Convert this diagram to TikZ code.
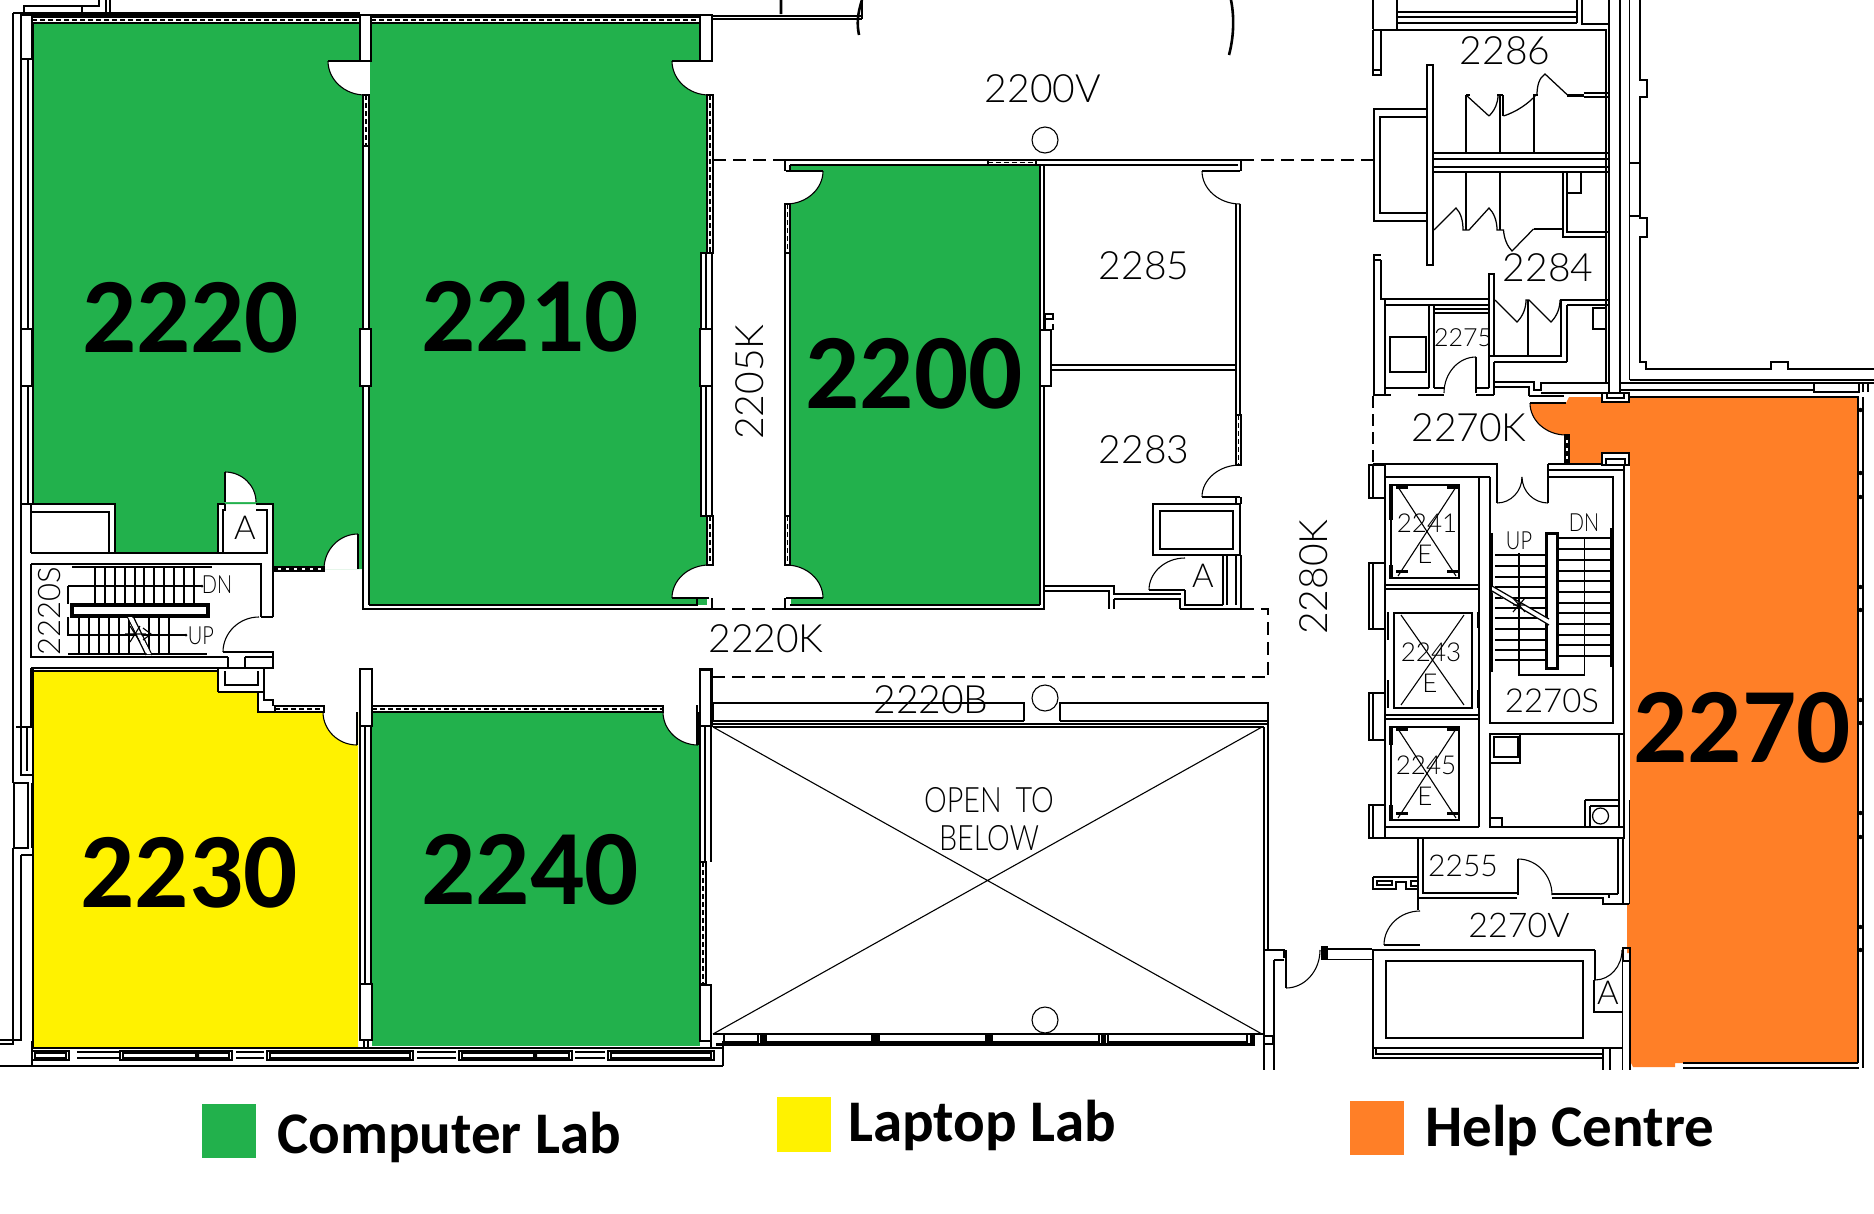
\documentclass[tikz,border=0pt]{standalone}
\usepackage{fontspec}
\setmainfont{Carlito}
\newfontfamily\cad{Lato Light}
\newfontfamily\boldlab{Carlito}[BoldFont=Carlito Bold]
\definecolor{rgreen}{RGB}{34,177,76}
\definecolor{ryellow}{RGB}{255,242,0}
\definecolor{rorange}{RGB}{255,127,39}
\tikzset{
 w/.style={line width=1.25pt,draw=black},
 tn/.style={line width=1.1pt,draw=black},
 tk/.style={line width=2.6pt,draw=black},
 col/.style={line width=1.1pt,draw=black,fill=white},
 lab/.style={font=\cad\fontsize{#1}{#1}\selectfont,inner sep=0pt,text=black},
 lab/.default=39,
 big/.style={font=\boldlab\bfseries\fontsize{107}{107}\selectfont,inner sep=0pt,text=black},
 leg/.style={font=\boldlab\bfseries\fontsize{59}{59}\selectfont,inner sep=0pt,text=black,anchor=base west},
 dsh/.style={line width=1.4pt,draw=black,dash pattern=on 13pt off 7pt},
}
% door: hinge x,y; leaf vector; opening vector
\newcommand{\doorw}[6]{%
 \fill[white] (#1,#2) -- (#1+#3,#2+#4) .. controls (#1+#3+.55*#5,#2+#4+.55*#6) and (#1+#5+.55*#3,#2+#6+.55*#4) .. (#1+#5,#2+#6) -- cycle;
 \doorn{#1}{#2}{#3}{#4}{#5}{#6}}
\newcommand{\doorn}[6]{%
 \draw[tn] (#1+#3,#2+#4) .. controls (#1+#3+.55*#5,#2+#4+.55*#6) and (#1+#5+.55*#3,#2+#6+.55*#4) .. (#1+#5,#2+#6);
 \draw[tk] (#1,#2) -- (#1+#3,#2+#4);}
\newcommand{\hwinh}[4]{\draw[col] (#1,#2) rectangle (#3,#4); \draw[tn,dash pattern=on 5pt off 3pt] (#1,#2/2+#4/2) -- (#3,#2/2+#4/2);}
\newcommand{\hwinv}[4]{\draw[col] (#1,#2) rectangle (#3,#4); \draw[tn,dash pattern=on 5pt off 3pt] (#1/2+#3/2,#2) -- (#1/2+#3/2,#4);}
\begin{document}
\begin{tikzpicture}[x=1pt,y=-1pt]
\useasboundingbox (0,0) rectangle (1874,1213);
\fill[white] (0,0) rectangle (1874,1213);
\clip (0,0) rectangle (1874,1213);
% ---- colour fills
\fill[rgreen] (34,24)--(362,24)--(362,569)--(273,569)--(273,504)--(218,504)--(218,553)--(115,553)--(115,504)--(34,504)--cycle;
\fill[rgreen] (370,24) rectangle (707,605);
\fill[rgreen] (791,165) rectangle (1040,605);
\fill[rgreen] (372,712) rectangle (700,1046);
\fill[ryellow] (34,671)--(218,671)--(218,692)--(258,692)--(258,712)--(358,712)--(358,1047)--(34,1047)--cycle;
\fill[rorange] (1530,403)--(1566,403)--(1569,397)--(1602,397)--(1602,402)--(1630,402)--(1630,397)--(1858,397)--(1858,1063)--(1675,1063)--(1675,1067)--(1633,1067)--(1631,1063)--(1631,953)--(1627,953)--(1627,904)--(1630,904)--(1630,453)--(1602,453)--(1602,463)--(1569,463)--(1569,435)--(1566,435) .. controls (1546,435) and (1530,421) .. (1530,403) -- cycle;
% ---- doors
\doorw{365}{61}{-37}{0}{0}{34}
\doorw{709}{61}{-37}{0}{0}{34}
\doorw{358}{569}{0}{-35}{-34}{0}
\doorw{709}{598}{-37}{0}{0}{-33}
\doorw{225}{502}{0}{-30}{31}{0}
\doorw{259}{652}{-36}{0}{0}{-35}
\doorw{357}{712}{0}{33}{-34}{0}
\doorw{698}{712}{0}{33}{-35}{0}
\doorw{786}{171}{37}{0}{0}{33}
\doorw{1240}{171}{-38}{0}{0}{33}
\doorw{786}{598}{37}{0}{0}{-33}
\doorw{1240}{497}{-38}{0}{0}{-32}
\doorw{1185}{590}{-36}{0}{0}{-32}
\doorw{1476}{393}{0}{-36}{-32}{0}
\doorn{1566}{403}{-36}{0}{0}{32}
\doorw{1497}{477}{0}{26}{25}{0}
\doorw{1548}{477}{0}{26}{-26}{0}
\doorw{1518}{895}{0}{-36}{34}{0}
\doorw{1420}{945}{-36}{0}{0}{-34}
\doorw{1595}{950}{0}{30}{27}{0}
\doorw{1286}{950}{0}{38}{34}{0}
% ---- top stub and arcs
\draw[w] (24,16)--(24,6)--(99,6)--(99,0) (24,13)--(99,13) (82,6)--(82,14) (106,0)--(106,15) (110,0)--(110,15);
\draw[tk] (781,0)--(781,14) (862,0) .. controls (857,15) and (857,25) .. (859,35) (1231,0) .. controls (1235,20) and (1233,40) .. (1229,55);
\draw[w] (712,16)--(862,16) (712,19)--(862,19) (862,0)--(862,19);
% ---- west wall
\draw[w] (13,13)--(13,783) (13,13)--(360,13) (21,15)--(21,775)--(32,775) (28,59)--(28,504) (33,24)--(33,504) (33,668)--(33,1047);
\draw[w] (13,848)--(13,1044)--(0,1044) (21,855)--(21,1040)--(0,1040) (21,855)--(32,855) (16,727)--(32,727) (27,727)--(27,771) (32,783)--(32,848);
\draw[col] (14,783) rectangle (28,848);
\draw[col] (21,15) rectangle (32,59);
\draw[col] (21,329) rectangle (32,386);
% north curtain
\hwinh{32}{17}{360}{23}
\hwinh{371}{17}{700}{23}
\draw[w] (32,15)--(712,15);
\draw[col] (360,15) rectangle (371,61);
\draw[col] (700,15) rectangle (712,61);
% partition 2220/2210
\draw[w] (363,146)--(363,329) (369,146)--(369,329) (363,386)--(363,569) (369,386)--(369,605);
\hwinv{363}{95}{369}{146}
\draw[col] (360,329) rectangle (371,386);
% east wall of 2210
\hwinv{707}{95}{713}{253}
\draw[col] (701,253) rectangle (712,329);
\draw[w] (706,253)--(706,329);
\draw[col] (700,329) rectangle (712,386);
\draw[col] (701,386) rectangle (712,516);
\draw[w] (706,386)--(706,516);
\hwinv{707}{516}{713}{565}
% bottom 2210
\draw[w] (363,569)--(363,609)--(712,609) (369,605)--(697,605)--(697,598) (712,598)--(712,609);
\hwinh{273}{567}{324}{571}
% closets NW
\draw[w] (22,504)--(115,504)--(115,553) (31,512)--(109,512)--(109,553) (31,504)--(31,553) (218,553)--(218,504)--(225,504) (223,553)--(223,510)--(225,510)--(225,504) (256,504)--(273,504)--(273,617) (256,510)--(267,510)--(267,553);
\draw[w] (31,553)--(268,553);
\draw[w] (21,553)--(21,668);
% stair 2220S
\draw[w] (31,564)--(261,564)--(261,617) (31,564)--(31,657)--(228,657) (273,617)--(261,617) (259,652)--(273,652)--(273,668)--(31,668) (228,657)--(228,668) (245,657)--(245,668) (245,657)--(273,657);
\draw[w] (31,668)--(31,727);
\draw[tk] (72,567)--(212,567) (68,654)--(207,654) (273,553)--(273,617);
\foreach \x in {95,105,115,125,135,144,154,164,174,184,194} \draw[w] (\x,567)--(\x,604);
\foreach \x in {79,89,99,109,119,129,149,159,169} \draw[w] (\x,617)--(\x,654);
\draw[w] (68,586)--(202,586) (68,586)--(68,604) (68,617)--(68,635)--(186,635);
\fill (202,586) circle (1.5pt) (186,635) circle (1.5pt);
\draw[line width=3.2pt,black,fill=white] (72,605) rectangle (208,616);
\draw[w] (127,616)--(146,655) (133,616)--(152,655);
\fill[white] (128,617) -- (132,617) -- (151,654) -- (147,654) -- cycle;
\draw[tn] (125,634)--(146,634) (130,626)--(140,642) (130,642)--(140,626) (143,628)--(151,634)--(143,640);
% door frame box and south-west
\draw[w] (33,671)--(218,671) (218,668)--(218,692);
\draw[tk] (218,692)--(264,692) (218,671)--(218,692);
\draw[w] (225,671)--(225,685)--(258,685)--(258,671) (264,668)--(264,700)--(273,700)--(273,706);
\draw[w] (258,692)--(258,712)--(275,712);
\hwinh{275}{706}{324}{712}
\hwinh{372}{706}{663}{712}
\draw[col] (360,669) rectangle (372,726);
\draw[w] (360,726)--(360,984) (365,726)--(365,984) (371,726)--(371,984);
\draw[col] (360,984) rectangle (372,1040);
\draw[w] (364,1040)--(364,1048) (368,1040)--(368,1048);
\draw[col] (700,669) rectangle (712,726);
\draw[w] (700,726)--(700,862) (705,726)--(705,862) (711,726)--(711,862);
\hwinv{700}{862}{706}{984}
\draw[col] (700,985) rectangle (711,1041);
\draw[w] (697,705)--(697,745);
% south curtain
\draw[w] (0,1066)--(723,1066) (32,1048)--(723,1048) (32,1041)--(32,1066) (723,1041)--(723,1066) (680,1053)--(711,1053) (711,1041)--(711,1048);
\foreach \a/\b in {32/69,120/232,267/413,459/572,608/714} {\draw[w] (\a,1051) rectangle (\b,1060); \draw[tn] (\a+3,1053) rectangle (\b-3,1058);}
\foreach \a/\b in {77/119,236/264,417/456,575/605} {\draw[tk] (\a,1058)--(\b,1058); \draw[w] (\a,1052)--(\b,1052);}
\fill (195,1053) rectangle (199,1057) (533,1053) rectangle (537,1057);
% corridor 2205K, 2200 room
\draw[w] (785,253)--(785,516) (790,253)--(790,516);
\hwinv{785}{204}{790}{253}
\hwinv{785}{516}{790}{565}
\draw[w] (785,160)--(1241,160) (790,165)--(1238,165) (785,160)--(785,171) (1241,160)--(1241,171) (790,165)--(790,171);
\hwinh{988}{160}{1036}{165}
\draw[w] (1040,165)--(1040,605) (1044,165)--(1044,609) (785,598)--(785,609)--(1045,609) (790,605)--(1040,605);
\draw[col] (1040,330) rectangle (1051,386);
\draw[w] (1045,330)--(1045,314)--(1053,314)--(1053,319)--(1046,319) (1053,324)--(1053,330);
\draw[w] (1051,365)--(1236,365) (1051,370)--(1236,370) (1236,204)--(1236,415) (1240,204)--(1240,415);
\hwinv{1236}{415}{1241}{465}
\draw[w] (1236,497)--(1236,504) (1241,497)--(1241,504);
\draw[line width=2.2pt,black] (1153,504) rectangle (1240,555);
\draw[w] (1160,511) rectangle (1233,549);
\draw[w] (1223,555)--(1223,605) (1227,555)--(1227,605) (1236,555)--(1236,605) (1241,555)--(1241,609) (1045,586)--(1114,586)--(1114,594)--(1181,594) (1044,591)--(1109,591)--(1109,609) (1114,599)--(1180,599)--(1180,609) (1185,590)--(1185,605)--(1223,605) (1114,599)--(1114,609);
\draw[w] (1180,609)--(1241,609);
\draw[dsh] (713,160)--(785,160) (1241,160)--(1373,160);
\draw[dsh] (712,609)--(785,609) (1241,609)--(1268,609)--(1268,677) (712,677)--(1268,677);
% 2220B strip and open-to-below
\draw[col] (700,670) rectangle (711,726);
\draw[w] (713,703)--(1024,703)--(1024,721) (1060,721)--(1060,703)--(1268,703)--(1268,722) (713,703)--(713,721);
\draw[line width=2.2pt,black] (711,721)--(1024,721) (1060,721)--(1268,721);
\draw[w] (711,724)--(1268,724) (713,727)--(1264,727);
\draw[tn] (713,727)--(1262,1034) (1262,727)--(713,1034);
\draw[w] (1264,727)--(1264,950) (1268,722)--(1268,950);
\draw[w] (713,1034)--(1264,1034);
\foreach \a/\b in {724/758,766/872,879/986,992/1099,1108/1247} \draw[w] (\a,1034) rectangle (\b,1042);
\draw[tk] (716,1044.5)--(1252,1044.5);
\foreach \x in {762,875,989,1103,1252} \fill (\x-2.5,1034) rectangle (\x+2.5,1046);
% east of open
\draw[tk] (1264,950)--(1284,950)--(1284,958) (1264,950)--(1264,1070) (1274,960)--(1274,1070);
\draw[w] (1274,960)--(1284,960);
\draw[col] (1264,1036) rectangle (1273,1044);
\draw[line width=1pt,draw=black,fill=white] (1321,949) rectangle (1372,959);
\draw[tk] (1321,949)--(1372,949);
\fill (1321,946) rectangle (1328,960);
% ---- 2286/2284 block
\draw[w] (1373,0)--(1373,29) (1397,0)--(1397,29) (1397,12)--(1577,12) (1397,17)--(1577,17) (1397,23)--(1577,23) (1577,0)--(1577,23) (1582,0)--(1582,24)--(1609,24);
\draw[tk] (1373,30)--(1607,30);
\draw[w] (1373,30)--(1373,75)--(1381,75)--(1381,30) (1373,70)--(1381,70);
\draw[w] (1609,0)--(1609,393) (1620,0)--(1620,393) (1629.5,0)--(1629.5,380) (1606,30)--(1606,383);
\draw[w] (1640,0)--(1640,80)--(1647,80)--(1647,97)--(1640,97)--(1640,218)--(1647,218)--(1647,237)--(1640,237)--(1640,362)--(1646,362)--(1646,369)--(1771,369)--(1771,362)--(1788,362)--(1788,369)--(1874,369) (1629.5,163)--(1640,163) (1629.5,216)--(1640,216);
\draw[w] (1629.5,380)--(1874,380) (1620,383)--(1874,383) (1620,390)--(1859,390) (1629,397)--(1859,397);
\draw[col] (1814,383) rectangle (1859,392);
\draw[w] (1868,383)--(1868,392) (1863,392)--(1863,383);
\draw[w] (1858,397)--(1858,1063) (1863,397)--(1863,1068) (1683,1063)--(1858,1063) (1683,1068)--(1859,1068);
\foreach \y in {410,473,497,587,610,700,723,813,837,927,950} \fill (1860.5,\y) circle (2.2pt);
\draw[w] (1427,65) rectangle (1433,265);
\draw[line width=2.8pt,black] (1427,109)--(1374,109)--(1374,221)--(1427,221);
\draw[w] (1427,117)--(1380,117)--(1380,213)--(1427,213) (1427,109)--(1427,222);
\draw[w] (1433,153)--(1609,153) (1433,159)--(1609,159) (1433,167)--(1609,167) (1433,172)--(1609,172) (1433,153)--(1433,172);
\draw[w] (1466,95)--(1466,153) (1500,95)--(1500,153) (1534,95)--(1534,153) (1503,95)--(1503,116) (1497,95)--(1503,95);
\draw[w] (1466,95)--(1489,116) (1503.5,116) .. controls (1516,112) and (1528,104) .. (1536,95) (1489,116) .. controls (1495,110) and (1498,103) .. (1498,95) (1567.5,95)--(1545,74) .. controls (1539,78) and (1537,86) .. (1537,95);
\draw[w] (1466,95)--(1470,95);
\draw[w] (1533,95)--(1538,95);
\draw[tk] (1567,95.5)--(1584,95.5);
\draw[w] (1583.5,93)--(1609,93) (1583.5,97)--(1609,97);
\draw[w] (1466,172)--(1466,230) (1500,172)--(1500,230);
\draw[w] (1434,230)--(1456,208) .. controls (1461,213) and (1463,221) .. (1463,230) -- (1469,230)--(1489,208) .. controls (1494,213) and (1497,221) .. (1497,230) -- (1503.5,230) .. controls (1504,238) and (1507,246) .. (1512,251) -- (1533.5,229);
\draw[tk] (1533.5,229)--(1563,229);
\draw[w] (1563,172)--(1563,237)--(1607,237) (1567,172)--(1567,232)--(1609,232);
\draw[w] (1567,172) rectangle (1581,193);
\draw[w] (1373,255)--(1381,255) (1373,260)--(1381,260);
\draw[tk] (1374,255)--(1374,395) (1381,260)--(1381,299)--(1489,299);
\draw[w] (1489,274) rectangle (1494,356);
\draw[w] (1489,274)--(1489,388) (1560,300)--(1609,300) (1567,305)--(1609,305);
\draw[w] (1528,300)--(1528,356) (1561,300)--(1561,356) (1567,305)--(1567,362) (1494,356)--(1562,356) (1494,362)--(1567,362);
\draw[w] (1495,300)--(1517,322) .. controls (1523,316) and (1526,308) .. (1526,300) -- (1529,300)--(1551,322) .. controls (1557,316) and (1560,308) .. (1560,300);
\draw[w] (1593,308) rectangle (1606,329);
\draw[w] (1385,305)--(1489,305) (1385,300)--(1385,395) (1429,305)--(1429,388) (1434,306)--(1434,388) (1434,313)--(1489,313) (1434,309)--(1489,309) (1385,388)--(1429,388) (1434,388)--(1444,388) (1476,388)--(1489,388);
\draw[w] (1390,337) rectangle (1426,372);
\draw[tk] (1373,395)--(1391,395) (1418,395)--(1444,395) (1476,395)--(1494,395);
\draw[w] (1494,362)--(1494,395) (1494,382)--(1534,382)--(1534,390)--(1541,390)--(1541,383)--(1609,383) (1494,387)--(1529,387)--(1529,396) (1541,393)--(1620,393);
\draw[tk] (1529,396)--(1564,396);
\draw[dsh,dash pattern=on 12pt off 6pt] (1373,396)--(1373,463);
\draw[w] (1602,393) rectangle (1629,402) (1607,393)--(1607,398)--(1624,398)--(1624,393);
\hwinv{1565}{435}{1569}{463}
\draw[w] (1602,453) rectangle (1629,465);
\draw[w] (1606,459) rectangle (1625,465);
% ---- elevators block
\draw[tk] (1373,464)--(1497,464)--(1497,477);
\draw[tk] (1548,464)--(1548,477) (1548,464)--(1602,464);
\draw[w] (1385,477)--(1490,477) (1385,477)--(1385,827) (1479,477)--(1479,827) (1385,827)--(1479,827) (1385,585)--(1479,585) (1385,589)--(1479,589) (1385,715)--(1479,715) (1385,719)--(1479,719);
\foreach \a/\b/\c in {465/498/1,563/629/2,693/740/3,805/838/4} {\draw[col] (1369,\a) rectangle (1385,\b); \draw[w] (1373,\a)--(1373,\b);}
\foreach \a/\b/\c/\d/\e/\f/\g/\h in {1391/485/1459/578/1398/487/1456/576,1394/613/1472/708/1401/615/1464/705,1391/727/1459/820/1398/729/1456/818} {\draw[line width=1.8pt,black] (\a,\b) rectangle (\c,\d); \draw[tn] (\e,\f)--(\g,\h) (\g,\f)--(\e,\h);}
\draw[line width=4pt,black] (1391,484)--(1391,520) (1391,565)--(1391,579) (1391,726)--(1391,745) (1391,805)--(1391,821);
\draw[tk] (1388,612)--(1388,640) (1388,680)--(1388,708) (1478,612)--(1478,628) (1478,690)--(1478,708);
\foreach \a/\b in {1396/486,1447/486,1396/570,1447/570,1396/728,1447/728,1396/812,1447/812} \fill (\a,\b) rectangle (\a+12,\b+3);
% stair 2270S
\draw[w] (1490,477)--(1490,723)--(1613,723)--(1613,477)--(1548,477) (1490,734)--(1624,734) (1490,734)--(1490,827)--(1624,827) (1624,465)--(1624,838) (1373,838)--(1625,838) (1373,827)--(1373,838);
\draw[w] (1548,470)--(1624,470);
\draw[w] (1490,734) rectangle (1520,763);
\draw[w] (1494,737) rectangle (1518,757);
\draw[w] (1585,800)--(1585,827) (1585,800)--(1619,800) (1590,806)--(1619,806) (1590,806)--(1590,827) (1619,734)--(1619,827);
\draw[w] (1600.5,816) circle (8pt);
\draw[w] (1490,818)--(1502,818)--(1502,827);
\foreach \y in {555,566,577,587,598,608,618,629,640,650,660} \draw[w] (1495,\y)--(1547,\y);
\foreach \y in {538,549,560,571,581,592,603,613,624,635,645,656} \draw[w] (1558,\y)--(1611,\y);
\draw[tk] (1492,533)--(1492,672) (1611,528)--(1611,667);
\draw[line width=3pt,black,fill=white] (1546,533) rectangle (1557,668);
\draw[w] (1519,553)--(1519,675)--(1584.5,675)--(1584.5,537);
\fill[white] (1492,586)--(1549,619)--(1549,625)--(1492,592)--cycle;
\draw[w] (1492,586)--(1549,619) (1492,591)--(1549,625);
\draw[tn] (1513,605)--(1525,605) (1519,596)--(1519,614) (1513,598)--(1525,612) (1525,598)--(1513,612);
% south east
\draw[w] (1418,838)--(1418,910) (1423,838)--(1423,893)--(1517,893) (1423,898)--(1517,898) (1418,898)--(1423,898) (1552,894)--(1618,894) (1552,898)--(1603,898)--(1603,904)--(1629,904) (1609,894)--(1609,898) (1618,838)--(1618,894) (1623,838)--(1623,904) (1629.5,800)--(1629.5,904);
\draw[w] (1373,877)--(1418,877) (1373,877)--(1373,889)--(1396,889)--(1396,882)--(1406,882)--(1406,889)--(1418,889);
\draw[w] (1377,881) rectangle (1392,885);
\draw[w] (1411,881) rectangle (1418,886);
\draw[tk] (1373,950)--(1595,950) (1595,950)--(1595,980);
\draw[w] (1373,950)--(1373,1058)--(1603,1058) (1376,1048)--(1376,1054)--(1603,1054) (1373,1048)--(1623,1048);
\draw[w] (1386,961) rectangle (1583,1038);
\draw[w] (1594,980)--(1594,1012)--(1622.6,1012) (1622.6,950)--(1622.6,1048) (1603,1048)--(1603,1070) (1610,1048)--(1610,1070) (1622.6,1048)--(1622.6,1070) (1630,961)--(1630,1070);
\draw[w] (1623,948) rectangle (1630,961);
% ---- texts (plan)
\node[lab] at (1043,88.5) {2200V};
\draw[tn] (1045,140) circle (13pt);
\draw[tn] (1045,698) circle (13pt);
\draw[tn] (1045,1020) circle (13pt);
\node[lab] at (1144,266) {2285};
\node[lab] at (1144,450) {2283};
\node[lab,rotate=90] at (750,382) {2205K};
\node[lab,rotate=90] at (1314,577) {2280K};
\node[lab] at (766,639) {2220K};
\node[lab] at (931,700) {2220B};
\node[lab=35,xscale=.82,transform shape] at (989,800) {OPEN\hspace{17pt}TO};
\node[lab=35,xscale=.82,transform shape] at (989,838) {BELOW};
\node[lab=33] at (1203,576) {A};
\node[lab=33] at (245,528) {A};
\node[lab=33] at (1608,993) {A};
\node[lab=31,rotate=90] at (50,611) {2220S};
\node[lab=25,xscale=.8,transform shape] at (217,585) {DN};
\node[lab=25,xscale=.8,transform shape] at (201,636) {UP};
\node[lab=25,xscale=.8,transform shape] at (1584,523) {DN};
\node[lab=25,xscale=.8,transform shape] at (1519,541) {UP};
\node[lab] at (1505,51) {2286};
\node[lab] at (1548,268) {2284};
\node[lab] at (1469,428) {2270K};
\node[lab=25] at (1463,338) {2275};
\node[lab=33] at (1552,701) {2270S};
\node[lab=34] at (1519,925) {2270V};
\node[lab=30] at (1463,866) {2255};
\node[lab=26] at (1427,523) {2241};
\node[lab=26] at (1425,554) {E};
\node[lab=26] at (1431,652) {2243};
\node[lab=26] at (1430,683) {E};
\node[lab=26] at (1426,765) {2245};
\node[lab=26] at (1425,796) {E};
% ---- big labels
\node[big] at (190.5,318) {2220};
\node[big] at (530,317) {2210};
\node[big] at (914,374) {2200};
\node[big] at (189,873) {2230};
\node[big] at (530,870) {2240};
\node[big] at (1742,728) {2270};
% ---- legend
\fill[rgreen] (202,1104) rectangle (256,1158);
\fill[ryellow] (777,1097) rectangle (831,1152);
\fill[rorange] (1350,1101) rectangle (1404,1155);
\node[leg] at (277,1153) {Computer Lab};
\node[leg] at (848,1141) {Laptop Lab};
\node[leg] at (1425,1146) {Help Centre};
\end{tikzpicture}
\end{document}
